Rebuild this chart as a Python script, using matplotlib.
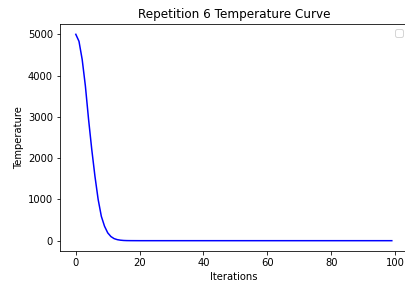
import matplotlib
matplotlib.use("Agg")
from matplotlib import pyplot as plt

# temperature per iteration
temperature = [5000, 4830, 4390, 3750, 2940, 2210, 1560, 1000, 590, 350,
               190, 100, 50, 25, 12, 5, 2, 1, 0.5, 0.2,
               0, 0, 0, 0, 0, 0, 0, 0, 0, 0,
               0, 0, 0, 0, 0, 0, 0, 0, 0, 0,
               0, 0, 0, 0, 0, 0, 0, 0, 0, 0,
               0, 0, 0, 0, 0, 0, 0, 0, 0, 0,
               0, 0, 0, 0, 0, 0, 0, 0, 0, 0,
               0, 0, 0, 0, 0, 0, 0, 0, 0, 0,
               0, 0, 0, 0, 0, 0, 0, 0, 0, 0,
               0, 0, 0, 0, 0, 0, 0, 0, 0, 0]
iterations = list(range(len(temperature)))

fig = plt.figure(figsize=(405 / 72, 290 / 72), dpi=72)
ax = fig.add_axes([60 / 405, 39 / 290, 347.6 / 405, 227 / 290])

ax.plot(iterations, temperature, color='b')
ax.set_title("Repetition 6 Temperature Curve")
ax.set_xlabel("Iterations")
ax.set_ylabel("Temperature")
ax.legend(handles=[], loc='upper right')

fig.savefig("out.png", dpi=72)
